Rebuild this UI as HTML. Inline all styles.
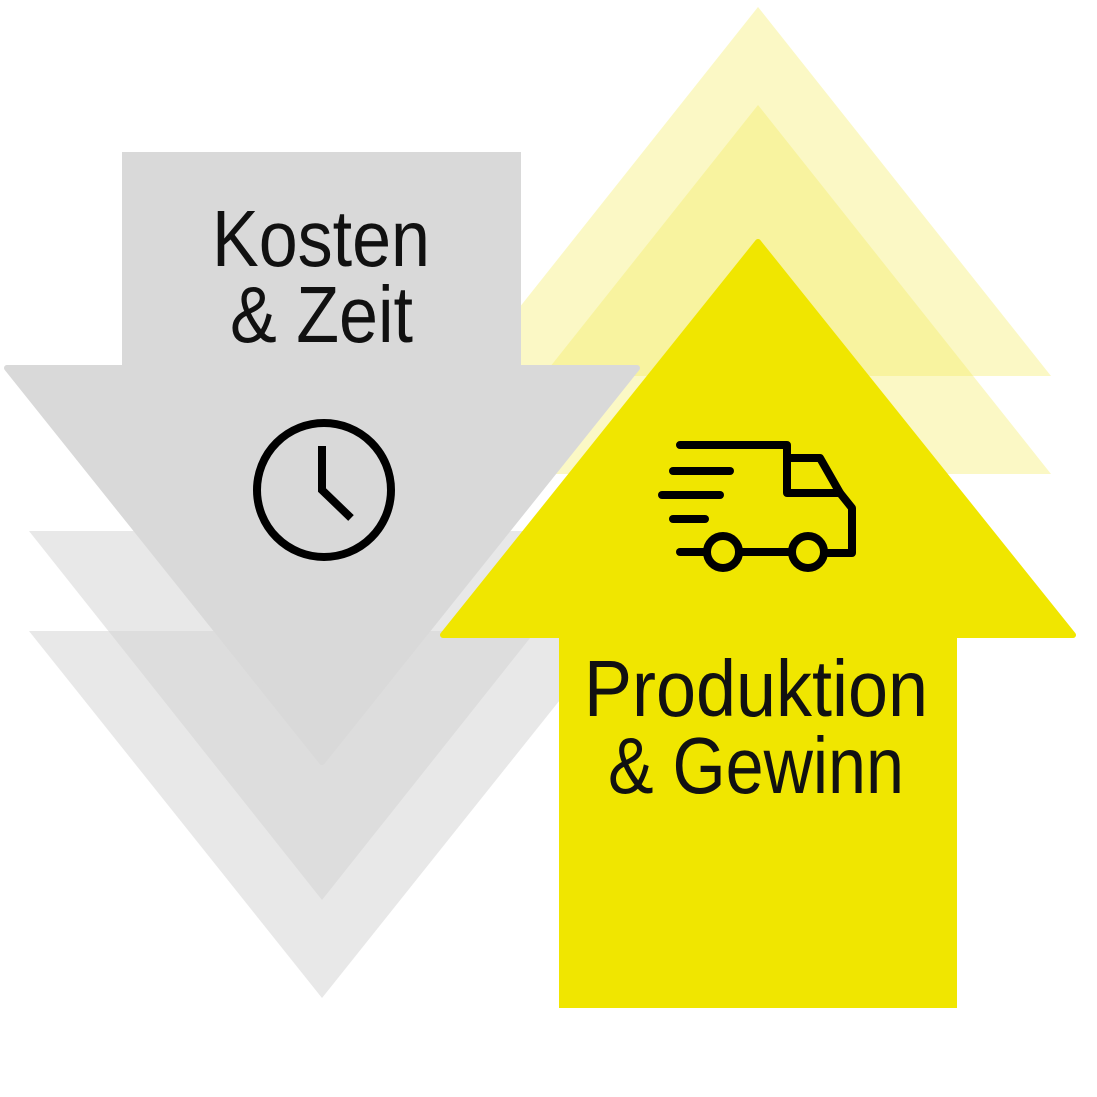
<!DOCTYPE html>
<html><head><style>html,body{margin:0;padding:0;background:#fff;width:1097px;height:1097px;overflow:hidden}</style></head>
<body>
<svg width="1097" height="1097" viewBox="0 0 1097 1097" xmlns="http://www.w3.org/2000/svg">
<g stroke-linejoin="round">
<polygon points="758,7 1051,376 465,376" fill="#f3ea5a" fill-opacity="0.35"/>
<polygon points="758,105 1051,474 465,474" fill="#f3ea5a" fill-opacity="0.35"/>
<polygon points="29,531 615,531 322,900" fill="#d2d2d2" fill-opacity="0.5"/>
<polygon points="29,631 615,631 322,998" fill="#d2d2d2" fill-opacity="0.5"/>
<rect x="122" y="152" width="399" height="218" fill="#d9d9d9"/>
<polygon points="7,368 637,368 322,762" fill="#d9d9d9" stroke="#d9d9d9" stroke-width="6"/>
<polygon points="758,242 1073,635 443,635" fill="#f0e600" stroke="#f0e600" stroke-width="6"/>
<rect x="559" y="632" width="398" height="376" fill="#f0e600"/>
</g>
<g font-family="'Liberation Sans Narrow','Liberation Sans',sans-serif" font-size="80" fill="#111">
<text x="212" y="266" textLength="218" lengthAdjust="spacingAndGlyphs">Kosten</text>
<text x="230" y="342" textLength="183" lengthAdjust="spacingAndGlyphs">&amp; Zeit</text>
<text x="584" y="716" textLength="344" lengthAdjust="spacingAndGlyphs">Produktion</text>
<text x="608" y="793" textLength="296" lengthAdjust="spacingAndGlyphs">&amp; Gewinn</text>
</g>
<g fill="none" stroke="#000" stroke-width="8" stroke-linecap="round" stroke-linejoin="round">
<circle cx="324" cy="490" r="67"/>
<polyline points="322,446 322,490 351,518" stroke-linecap="butt" stroke-linejoin="miter"/>
<polyline points="680,445 787,445 787,493 840,493"/>
<polyline points="787,458 820,458 840,493 852,508 852,553 828,553"/>
<line x1="673" y1="471" x2="730" y2="471"/>
<line x1="662" y1="495" x2="720" y2="495"/>
<line x1="673" y1="519" x2="705" y2="519"/>
<line x1="680" y1="552" x2="706" y2="552"/>
<line x1="740" y1="552" x2="791" y2="552"/>
<circle cx="723" cy="552" r="16"/>
<circle cx="808" cy="552" r="16"/>
</g>
</svg>
</body></html>
